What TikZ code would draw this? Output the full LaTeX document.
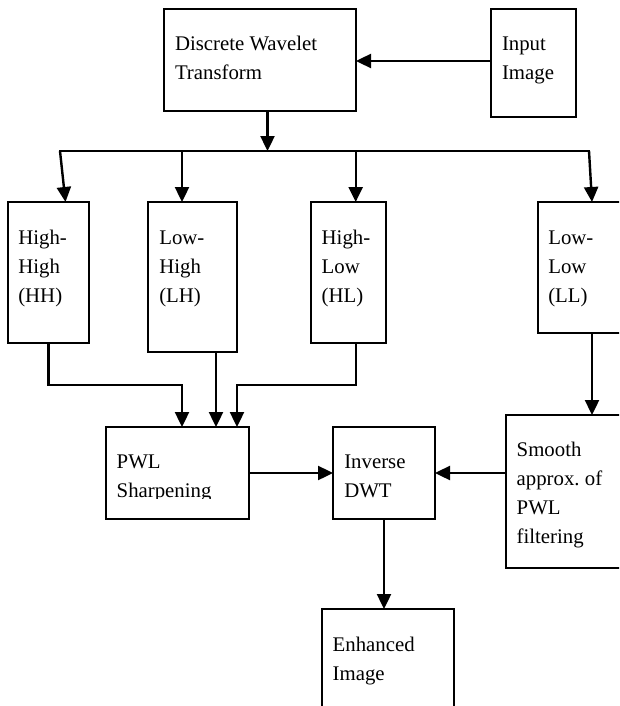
\documentclass[tikz,border=0pt]{standalone}
\usepackage{fontspec}
\setmainfont{Liberation Serif}
\usetikzlibrary{arrows.meta}
\newcommand\boxlines[1]{\begin{tabular}[t]{@{}l@{}}#1\end{tabular}}
\begin{document}
\begin{tikzpicture}[x=1pt,y=-1pt,
  boxst/.style={draw, line width=1.8pt, anchor=north west, inner sep=0pt, outer sep=0pt},
  txt/.style={anchor=base west, inner sep=0pt, outer sep=0pt, font=\fontsize{20.8}{29}\selectfont},
  conn/.style={line width=2.4pt},
  arr/.style={conn, -{Triangle[length=15pt,width=14pt]}}]
\clip (0,0) rectangle (619,706);
\fill[white] (0,0) rectangle (619,706);
% boxes
\node[boxst,minimum width=192pt,minimum height=102pt] (dwt) at (164,9) {};
\node[boxst,minimum width=85pt,minimum height=108pt] (inp) at (491,9) {};
\node[boxst,minimum width=81pt,minimum height=141pt] (hh) at (8,202) {};
\node[boxst,minimum width=89pt,minimum height=150pt] (lh) at (148,202) {};
\node[boxst,minimum width=75pt,minimum height=141pt] (hl) at (311,202) {};
\node[boxst,minimum width=100pt,minimum height=131pt] (ll) at (538,202) {};
\node[boxst,minimum width=143pt,minimum height=92pt] (pwl) at (106,427) {};
\node[boxst,minimum width=102pt,minimum height=92pt] (inv) at (333,427) {};
\node[boxst,minimum width=130pt,minimum height=153pt] (smo) at (506,415) {};
\node[boxst,minimum width=132pt,minimum height=120pt] (enh) at (322,609) {};
% junction coordinates
\coordinate (aIn) at (491,61);
\coordinate (bHH) at (60,151);
\coordinate (bLH) at (182,151);
\coordinate (bDW) at (267.5,151);
\coordinate (bHL) at (355.7,151);
\coordinate (bLL) at (589,151);
\coordinate (jHH) at (182,385);
\coordinate (jLH) at (216,385);
\coordinate (jHL) at (237,385);
\coordinate (xLL) at (592,333);
% connectors
\draw[arr] (aIn) -- (aIn -| dwt.east);
\draw[arr] (bDW |- dwt.south) -- (bDW);
\draw[conn, line cap=rect] (bHH) -- (bLL);
\draw[arr] (bHH) -- ([xshift=17pt]hh.north);
\draw[arr] (bLH) -- (bLH |- lh.north);
\draw[arr] (bHL) -- (bHL |- hl.north);
\draw[arr] (bLL) -- (xLL |- ll.north);
\draw[arr] (hh.south) |- (jHH) -- (jHH |- pwl.north);
\draw[arr] (jLH |- lh.south) -- (jLH |- pwl.north);
\draw[arr] (bHL |- hl.south) |- (jHL) -- (jHL |- pwl.north);
\draw[arr] (xLL |- ll.south) -- (xLL |- smo.north);
\draw[arr] (pwl.east) -- (pwl.east -| inv.west);
\draw[arr] (smo.west |- inv.east) -- (inv.east);
\draw[arr] (inv.south) -- (inv.south |- enh.north);
% texts
\node[txt] (tdwt) at (175,51) {\boxlines{Discrete Wavelet\\Transform}};
\node[txt] (tinp) at (502,51) {\boxlines{Input\\Image}};
\node[txt] (thh) at (18.3,244) {\boxlines{High-\\High\\(HH)}};
\node[txt] (tlh) at (159.3,244) {\boxlines{Low-\\High\\(LH)}};
\node[txt] (thl) at (321.7,244) {\boxlines{High-\\Low\\(HL)}};
\node[txt] (tll) at (548.3,244) {\boxlines{Low-\\Low\\(LL)}};
\begin{scope}
  \clip (106,427) rectangle (249,498);
  \node[txt] (tpwl) at (116.7,468) {\boxlines{PWL\\Sharpening}};
\end{scope}
\node[txt] (tinv) at (344.3,468) {\boxlines{Inverse\\DWT}};
\node[txt] (tsmo) at (516.7,456) {\boxlines{Smooth\\approx.\ of\\PWL\\filtering}};
\node[txt] (tenh) at (332.7,651) {\boxlines{Enhanced\\Image}};
\end{tikzpicture}
\end{document}
